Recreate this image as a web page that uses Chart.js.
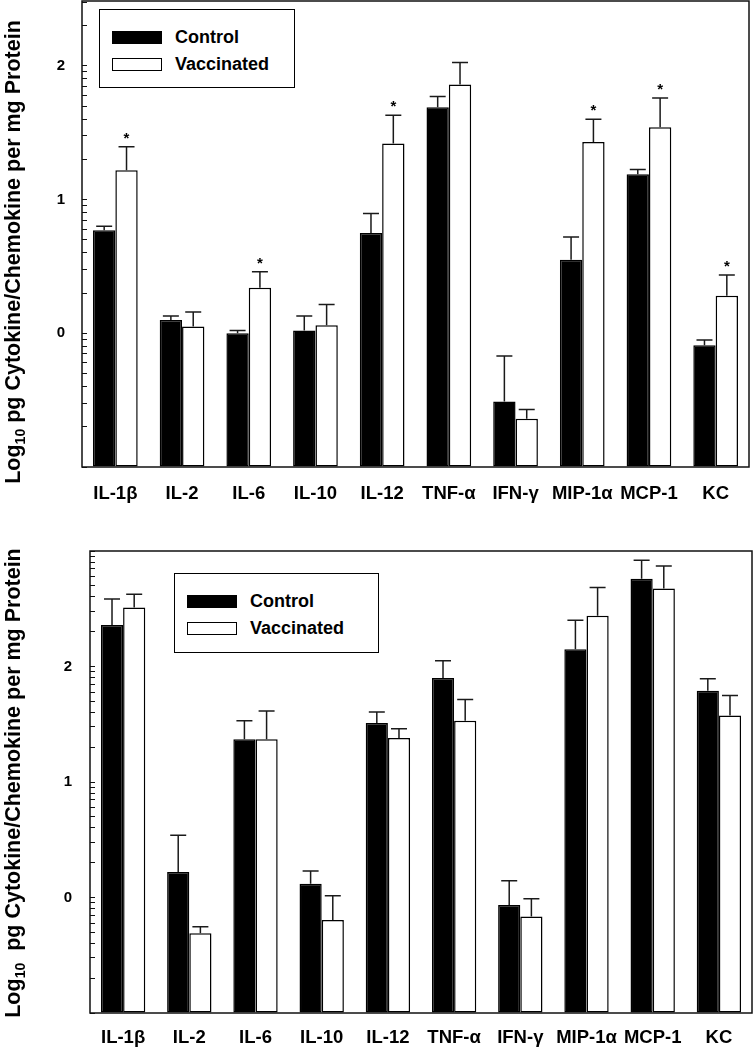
<!DOCTYPE html>
<html>
<head>
<meta charset="utf-8">
<script src="https://cdn.jsdelivr.net/npm/chart.js@4.4.1/dist/chart.umd.min.js"></script>
<style>
  html, body { margin: 0; padding: 0; background: #fff; }
  body {
    width: 753px; height: 1050px; position: relative; overflow: hidden;
    font-family: "Liberation Sans", Arial, Helvetica, sans-serif; color: #000;
  }
  canvas { position: absolute; left: 0; }
  #chartA { top: 0; }
  #chartB { top: 510px; }
  .ytitle {
    position: absolute; width: 520px; height: 24px; line-height: 24px;
    text-align: center; font-weight: bold; font-size: 21.5px;
    transform: rotate(-90deg); white-space: nowrap;
  }
  .ytitle sub { font-size: 14px; line-height: 0; }
  .legend { position: absolute; border: 1.5px solid #000; box-sizing: border-box; background: #fff; }
  .legend-item {
    position: absolute; left: 12px; height: 22px; display: flex; align-items: center;
    font-weight: bold; font-size: 18px; white-space: nowrap;
  }
  .swatch { width: 50px; height: 13px; box-sizing: border-box; border: 1.5px solid #000; margin-right: 13px; }
</style>
</head>
<body>
<canvas id="chartA" width="753" height="510"></canvas>
<canvas id="chartB" width="753" height="540"></canvas>

<div class="ytitle" style="left:-247px; top:240px;">Log<sub>10</sub> pg Cytokine/Chemokine per mg Protein</div>
<div class="ytitle" style="left:-247px; top:771px;">Log<sub>10</sub>&nbsp; pg Cytokine/Chemokine per mg Protein</div>

<div class="legend" id="legendA" style="left:99px; top:9px; width:196px; height:79px;"></div>
<div class="legend" id="legendB" style="left:174px; top:573px; width:205px; height:80px;"></div>

<script>
const cytokines = ["IL-1β", "IL-2", "IL-6", "IL-10", "IL-12", "TNF-α", "IFN-γ", "MIP-1α", "MCP-1", "KC"];
const seriesNames = ["Control", "Vaccinated"];
const seriesFill = ["#000", "#fff"];

// upper panel (log10 pg per mg protein, mean and upward SE)
const controlA = [0.77, 0.10, 0.00, 0.02, 0.75, 1.69, -0.51, 0.55, 1.19, -0.09];
const controlErrA = [0.03, 0.03, 0.02, 0.11, 0.145, 0.08, 0.34, 0.17, 0.035, 0.04];
const vaccA = [1.22, 0.05, 0.34, 0.06, 1.42, 1.86, -0.64, 1.43, 1.54, 0.28];
const vaccErrA = [0.175, 0.11, 0.12, 0.155, 0.21, 0.165, 0.07, 0.17, 0.22, 0.155];
const starsA = [true, false, true, false, true, false, false, true, true, true];

// lower panel
const controlB = [2.36, 0.22, 1.37, 0.12, 1.51, 1.90, -0.065, 2.15, 2.76, 1.79];
const controlErrB = [0.225, 0.32, 0.16, 0.11, 0.095, 0.15, 0.21, 0.25, 0.16, 0.105];
const vaccB = [2.51, -0.31, 1.37, -0.195, 1.38, 1.53, -0.165, 2.44, 2.675, 1.575];
const vaccErrB = [0.115, 0.057, 0.245, 0.21, 0.08, 0.185, 0.155, 0.245, 0.195, 0.175];

// axis decades, minor ticks sit at log10(2..9) inside each decade
const decadesA = [-1, 0, 1, 2];
const decadesB = [-1, 0, 1, 2];
const minorSteps = [2, 3, 4, 5, 6, 7, 8, 9];

const FONT = "'Liberation Sans', Arial, Helvetica, sans-serif";
Chart.defaults.font.family = FONT;
Chart.defaults.color = "#000";

function buildTicks(decades, min, max) {
  const vals = [];
  decades.forEach((d) => {
    vals.push(d);
    minorSteps.forEach((k) => vals.push(d + Math.log10(k)));
  });
  vals.push(decades[decades.length - 1] + 1);
  return vals.filter((v) => v >= min - 1e-9 && v <= max + 1e-9);
}

// ── Plugins ──

const frameBox = {
  id: "frameBox",
  afterDraw(chart) {
    const { ctx, chartArea: a } = chart;
    ctx.save();
    ctx.strokeStyle = "#111";
    ctx.lineWidth = 1.5;
    ctx.strokeRect(a.left, a.top, a.right - a.left, a.bottom - a.top);
    ctx.restore();
  },
};

const errorBars = {
  id: "errorBars",
  afterDatasetsDraw(chart) {
    const { ctx } = chart;
    const y = chart.scales.y;
    ctx.save();
    ctx.strokeStyle = "#1a1a1a";
    ctx.fillStyle = "#000";
    ctx.lineWidth = 1.5;
    ctx.font = `bold 15px ${FONT}`;
    ctx.textAlign = "center";
    ctx.textBaseline = "alphabetic";
    chart.data.datasets.forEach((ds, di) => {
      chart.getDatasetMeta(di).data.forEach((bar, i) => {
        const top = y.getPixelForValue(ds.data[i]);
        const cap = y.getPixelForValue(ds.data[i] + ds.errors[i]);
        ctx.beginPath();
        ctx.moveTo(bar.x, top);
        ctx.lineTo(bar.x, cap);
        ctx.moveTo(bar.x - 8, cap);
        ctx.lineTo(bar.x + 8, cap);
        ctx.stroke();
        if (ds.stars && ds.stars[i]) ctx.fillText("*", bar.x, cap - 4);
      });
    });
    ctx.restore();
  },
};

// ── Panels ──

function makePanel(id, cfg) {
  const tickVals = buildTicks(cfg.decades, cfg.yMin, cfg.yMax);
  const barStyle = (idx) => ({
    backgroundColor: seriesFill[idx],
    borderColor: "#000",
    borderWidth: 1.5,
    borderSkipped: false,
    base: cfg.yMin,
    categoryPercentage: 0.67,
    barPercentage: 1,
  });

  return new Chart(document.getElementById(id), {
    type: "bar",
    data: {
      labels: cytokines,
      datasets: [
        { label: seriesNames[0], data: cfg.control, errors: cfg.controlErr, ...barStyle(0) },
        { label: seriesNames[1], data: cfg.vacc, errors: cfg.vaccErr, stars: cfg.stars, ...barStyle(1) },
      ],
    },
    options: {
      responsive: false,
      animation: false,
      devicePixelRatio: 1,
      layout: { padding: cfg.padding },
      plugins: { legend: { display: false }, tooltip: { enabled: false } },
      scales: {
        x: {
          grid: { display: false, drawTicks: false },
          border: { display: false },
          ticks: { font: { size: 18.5, weight: "bold" }, color: "#000", padding: cfg.xPad, maxRotation: 0, autoSkip: false },
          afterFit: (s) => { s.height = cfg.xHeight; },
        },
        y: {
          type: "linear",
          min: cfg.yMin,
          max: cfg.yMax,
          afterBuildTicks: (s) => { s.ticks = tickVals.map((v) => ({ value: v })); },
          ticks: {
            autoSkip: false,
            color: "#000",
            font: { size: 15, weight: "bold" },
            padding: cfg.yPad,
            callback: (v) => {
              const r = Math.round(v);
              if (Math.abs(v - r) > 1e-6 || r <= cfg.yMin || r >= cfg.yMax) return "";
              return String(r);
            },
          },
          grid: { drawOnChartArea: false, drawTicks: true, tickLength: -5, color: "#111", lineWidth: 1 },
          border: { display: false },
          afterFit: (s) => {
            s.width = cfg.yWidth;
            s.paddingTop = 0;
            s.paddingBottom = 0;
          },
        },
      },
    },
    plugins: [frameBox, errorBars],
  });
}

makePanel("chartA", {
  control: controlA, controlErr: controlErrA,
  vacc: vaccA, vaccErr: vaccErrA, stars: starsA,
  decades: decadesA, yMin: -1, yMax: 2.485,
  padding: { top: 1, right: 4, bottom: 0, left: 0 },
  yWidth: 82, yPad: 22, xHeight: 43, xPad: 16,
});

makePanel("chartB", {
  control: controlB, controlErr: controlErrB,
  vacc: vaccB, vaccErr: vaccErrB, stars: null,
  decades: decadesB, yMin: -1, yMax: 3,
  padding: { top: 41, right: 1, bottom: 0, left: 0 },
  yWidth: 90, yPad: 23, xHeight: 37, xPad: 14,
});

// ── Legends ──

function fillLegend(el) {
  el.innerHTML = seriesNames
    .map(
      (name, i) => `<div class="legend-item" style="top:${16 + i * 27}px">
        <span class="swatch" style="background:${seriesFill[i]}"></span>${name}</div>`
    )
    .join("");
}

fillLegend(document.getElementById("legendA"));
fillLegend(document.getElementById("legendB"));
</script>
</body>
</html>
